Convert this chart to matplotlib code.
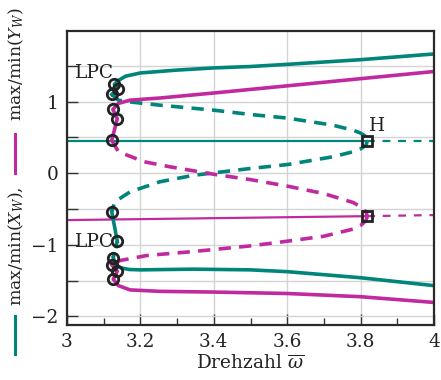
import matplotlib
matplotlib.use("Agg")
import matplotlib.pyplot as plt
from matplotlib.ticker import MultipleLocator, FuncFormatter
from matplotlib.lines import Line2D

plt.rcParams['font.family'] = ['DejaVu Serif']
plt.rcParams['mathtext.fontset'] = 'dejavuserif'

TEAL = '#00857b'
MAG = '#c02a9e'
FS = 13.3
FS_Y = 12.4

# ---- data ----
eq_x_stable = [3.0, 3.818]
eq_x_stable_y = [0.455, 0.455]
eq_x_unstable = [3.818, 4.0]
eq_x_unstable_y = [0.455, 0.455]
eq_y_stable = [3.0, 3.818]
eq_y_stable_y = [-0.655, -0.60]
eq_y_unstable = [3.818, 4.0]
eq_y_unstable_y = [-0.60, -0.585]

# teal periodic branches
tx_up_stable_w = [4.0, 3.8, 3.6, 3.5, 3.4, 3.3, 3.2, 3.16, 3.138, 3.129, 3.136, 3.134, 3.122]
tx_up_stable_v = [1.665, 1.585, 1.52, 1.49, 1.47, 1.44, 1.40, 1.355, 1.29, 1.24, 1.19, 1.15, 1.10]
tx_up_unst_w = [3.122, 3.14, 3.163, 3.253, 3.4, 3.5, 3.6, 3.725, 3.78, 3.80, 3.815, 3.818]
tx_up_unst_v = [1.10, 1.02, 1.0, 0.95, 0.88, 0.82, 0.77, 0.67, 0.60, 0.56, 0.51, 0.455]
tx_lo_unst_w = [3.818, 3.815, 3.80, 3.78, 3.725, 3.6, 3.5, 3.344, 3.253, 3.172, 3.13, 3.122]
tx_lo_unst_v = [0.455, 0.39, 0.34, 0.30, 0.23, 0.12, 0.066, -0.03, -0.12, -0.26, -0.40, -0.54]
tx_lo_mid_w = [3.122, 3.137]
tx_lo_mid_v = [-0.54, -0.95]
tx_lo_dash_w = [3.137, 3.131, 3.126]
tx_lo_dash_v = [-0.95, -1.08, -1.18]
tx_lo_stable_w = [3.126, 3.132, 3.145, 3.17, 3.2, 3.344, 3.5, 3.6, 3.8, 4.0]
tx_lo_stable_v = [-1.18, -1.27, -1.32, -1.345, -1.35, -1.34, -1.35, -1.375, -1.46, -1.57]

# magenta periodic branches
my_up_stable_w = [3.122, 3.137, 3.125, 3.14, 3.172, 3.253, 3.4, 3.5, 3.6, 3.8, 4.0]
my_up_stable_v = [0.46, 0.76, 0.89, 0.975, 1.02, 1.05, 1.12, 1.17, 1.22, 1.32, 1.42]
my_up_unst_w = [3.122, 3.14, 3.21, 3.28, 3.4, 3.5, 3.6, 3.7, 3.78, 3.80, 3.815, 3.818]
my_up_unst_v = [0.46, 0.30, 0.16, 0.09, -0.015, -0.09, -0.18, -0.285, -0.41, -0.47, -0.54, -0.60]
my_lo_unst_w = [3.818, 3.815, 3.80, 3.78, 3.7, 3.6, 3.5, 3.344, 3.217, 3.144, 3.122]
my_lo_unst_v = [-0.60, -0.66, -0.73, -0.78, -0.88, -0.95, -1.015, -1.094, -1.15, -1.22, -1.28]
my_lo_stable_w = [3.122, 3.137, 3.126, 3.14, 3.172, 3.253, 3.4, 3.6, 3.8, 4.0]
my_lo_stable_v = [-1.28, -1.37, -1.48, -1.57, -1.63, -1.65, -1.66, -1.68, -1.725, -1.805]

# special points
circ_w = [3.129, 3.14, 3.122, 3.122, 3.137, 3.126, 3.125, 3.137, 3.122, 3.122, 3.137, 3.126]
circ_v = [1.24, 1.18, 1.10, -0.54, -0.95, -1.18, 0.89, 0.76, 0.46, -1.28, -1.37, -1.48]
hopf_w = [3.818, 3.818]
hopf_v = [0.455, -0.60]

fig = plt.figure(figsize=(4.41, 3.80), dpi=100)
ax = fig.add_axes([67/441, 1-325/380, (434-67)/441, (325-30.7)/380])

lw_thick = 2.6
lw_thin = 1.6
dash_thick = (3.4, 2.3)
dash_thin = (3.5, 3.5)

ax.plot(eq_x_stable, eq_x_stable_y, color=TEAL, lw=lw_thin)
ax.plot(eq_x_unstable, eq_x_unstable_y, color=TEAL, lw=lw_thin, dashes=dash_thin)
ax.plot(eq_y_stable, eq_y_stable_y, color=MAG, lw=lw_thin)
ax.plot(eq_y_unstable, eq_y_unstable_y, color=MAG, lw=lw_thin, dashes=dash_thin)

ax.plot(tx_up_stable_w, tx_up_stable_v, color=TEAL, lw=lw_thick)
ax.plot(tx_up_unst_w, tx_up_unst_v, color=TEAL, lw=lw_thick, dashes=dash_thick)
ax.plot(tx_lo_unst_w, tx_lo_unst_v, color=TEAL, lw=lw_thick, dashes=dash_thick)
ax.plot(tx_lo_mid_w, tx_lo_mid_v, color=TEAL, lw=lw_thick)
ax.plot(tx_lo_dash_w, tx_lo_dash_v, color=TEAL, lw=lw_thick, dashes=(2, 1.5))
ax.plot(tx_lo_stable_w, tx_lo_stable_v, color=TEAL, lw=lw_thick)

ax.plot(my_up_stable_w, my_up_stable_v, color=MAG, lw=lw_thick)
ax.plot(my_up_unst_w, my_up_unst_v, color=MAG, lw=lw_thick, dashes=dash_thick)
ax.plot(my_lo_unst_w, my_lo_unst_v, color=MAG, lw=lw_thick, dashes=dash_thick)
ax.plot(my_lo_stable_w, my_lo_stable_v, color=MAG, lw=lw_thick)

ax.plot(circ_w, circ_v, ls='none', marker='o', ms=7.5, mfc='none', mec='#222222', mew=2.0, zorder=5)
ax.plot(hopf_w, hopf_v, ls='none', marker='s', ms=7, mfc='none', mec='#222222', mew=2.0, zorder=5)

ax.text(3.022, 1.40, 'LPC', fontsize=FS, ha='left', va='center', color='#222222')
ax.text(3.022, -0.96, 'LPC', fontsize=FS, ha='left', va='center', color='#222222')
ax.text(3.845, 0.66, 'H', fontsize=FS, ha='center', va='center', color='#222222')

ax.set_xlim(3.0, 4.0)
ax.set_ylim(-2.12, 1.99)
ax.xaxis.set_major_locator(MultipleLocator(0.2))
ax.xaxis.set_minor_locator(MultipleLocator(0.1))
ax.yaxis.set_major_locator(MultipleLocator(0.5))

def xfmt(v, pos):
    s = f'{v:.1f}'
    if s.endswith('.0'):
        s = s[:-2]
    return s.replace('-', '\u2212')

def yfmt(v, pos):
    if abs(v - round(v)) < 1e-6:
        return f'{int(round(v))}'.replace('-', '\u2212')
    return ''

ax.xaxis.set_major_formatter(FuncFormatter(xfmt))
ax.yaxis.set_major_formatter(FuncFormatter(yfmt))

ax.grid(True, which='major', color='#d4d4d4', lw=1.0)
ax.set_axisbelow(True)
ax.tick_params(axis='both', which='major', direction='in', length=8, width=1.0,
               labelsize=FS, pad=6, color='#333333', labelcolor='#222222')
ax.tick_params(axis='x', which='minor', direction='in', length=5, width=1.0, color='#333333')
for s in ax.spines.values():
    s.set_linewidth(1.6)
    s.set_color('#2a2a2a')

ax.set_xlabel(r'Drehzahl $\overline{\omega}$', fontsize=FS, color='#222222', labelpad=2)

fx = 15 / 441
def fy(py):
    return 1 - py / 380
fig.add_artist(Line2D([fx, fx], [fy(316), fy(354)], color=TEAL, lw=2.2, transform=fig.transFigure))
fig.add_artist(Line2D([fx, fx], [fy(134), fy(173)], color=MAG, lw=2.2, transform=fig.transFigure))
fig.text(fx + 1/441, fy(246), r'max/min$(X_W)$,', rotation=90, ha='center', va='center', fontsize=FS_Y, color='#222222')
fig.text(fx + 1/441, fy(64), r'max/min$(Y_W)$', rotation=90, ha='center', va='center', fontsize=FS_Y, color='#222222')

fig.savefig('out.png', dpi=100)
